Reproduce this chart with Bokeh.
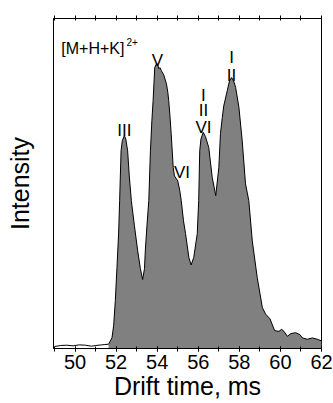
import numpy as np
from bokeh.plotting import figure
from bokeh.models import Range1d, LinearAxis, FixedTicker
from bokeh.core.properties import value
from bokeh.embed import file_html
from bokeh.resources import INLINE

FONT = "Liberation Sans"

# Drift time (ms) and normalised intensity
drift_time = [49.00, 49.30, 49.60, 49.90, 50.20, 50.50, 50.80, 51.00, 51.30, 51.45,
              51.63, 51.72, 51.80, 51.88, 51.96, 52.04, 52.12, 52.17, 52.24, 52.30,
              52.40, 52.47, 52.56, 52.64, 52.74, 52.89, 53.05, 53.18, 53.29, 53.38,
              53.42, 53.50, 53.59, 53.67, 53.74, 53.80, 53.88, 53.98, 54.04, 54.07,
              54.14, 54.20, 54.32, 54.45, 54.52, 54.56, 54.62, 54.68, 54.78, 54.84,
              55.00, 55.10, 55.17, 55.28, 55.38, 55.54, 55.65, 55.78, 55.95, 56.02,
              56.07, 56.13, 56.24, 56.35, 56.51, 56.68, 56.85, 57.00, 57.08, 57.17,
              57.24, 57.41, 57.52, 57.62, 57.72, 57.82, 57.98, 58.14, 58.30, 58.46,
              58.63, 58.87, 59.12, 59.28, 59.49, 59.72, 59.93, 60.06, 60.17, 60.34,
              60.50, 60.74, 60.95, 61.07, 61.31, 61.56, 61.80, 62.00]
intensity = [0.006, 0.009, 0.010, 0.008, 0.011, 0.010, 0.007, 0.009, 0.011, 0.012,
             0.013, 0.023, 0.033, 0.070, 0.145, 0.245, 0.347, 0.448, 0.599, 0.630,
             0.645, 0.635, 0.599, 0.523, 0.448, 0.372, 0.296, 0.242, 0.209, 0.242,
             0.296, 0.372, 0.448, 0.599, 0.690, 0.751, 0.852, 0.864, 0.857, 0.848,
             0.851, 0.842, 0.829, 0.802, 0.775, 0.751, 0.705, 0.651, 0.548, 0.523,
             0.508, 0.478, 0.448, 0.387, 0.348, 0.276, 0.253, 0.276, 0.348, 0.448,
             0.599, 0.635, 0.655, 0.642, 0.609, 0.518, 0.463, 0.548, 0.651, 0.700,
             0.735, 0.781, 0.811, 0.821, 0.811, 0.791, 0.730, 0.629, 0.499, 0.448,
             0.326, 0.215, 0.124, 0.104, 0.090, 0.054, 0.052, 0.058, 0.052, 0.037,
             0.045, 0.048, 0.042, 0.032, 0.028, 0.032, 0.028, 0.023]

# Conformer labels above the peaks
peak_text = ["III", "V", "VI", "I", "II", "VI", "I", "II"]
peak_x = [52.40, 54.01, 55.21, 56.25, 56.25, 56.25, 57.62, 57.62]
peak_y = [0.660, 0.872, 0.532, 0.766, 0.720, 0.669, 0.881, 0.826]

x_major = [50, 52, 54, 56, 58, 60, 62]
x_minor = list(range(49, 63))
x_title = "Drift time, ms"
y_title = "Intensity"
ion_label = "[M+H+K]"
ion_charge = "2+"
fill_start = 51.6

p = figure(width=333, height=403, output_backend="svg", toolbar_location=None,
           x_range=Range1d(48.95, 62.0), y_range=Range1d(0, 1.0),
           min_border_left=53, min_border_right=12, min_border_top=18,
           min_border_bottom=55)
p.background_fill_color = "white"
p.border_fill_color = "white"
p.outline_line_color = "black"
p.outline_line_width = 1
p.grid.visible = False

xarr = np.array(drift_time)
yarr = np.array(intensity)
mask = xarr >= fill_start
p.varea(x=xarr[mask], y1=np.zeros(mask.sum()), y2=yarr[mask], fill_color="#808080")
p.line(x=drift_time, y=intensity, line_color="black", line_width=1)

p.text(x=peak_x, y=peak_y, text=peak_text, text_font=value(FONT),
       text_font_size="17px", text_align="center", text_baseline="alphabetic",
       text_color="black")
p.text(x=[49.33], y=[0.91], text=[ion_label], text_font=value(FONT),
       text_font_size="16px", text_align="left", text_baseline="alphabetic",
       text_color="black")
p.text(x=[52.50], y=[0.93], text=[ion_charge], text_font=value(FONT),
       text_font_size="10px", text_align="left", text_baseline="alphabetic",
       text_color="black")

xa = p.xaxis[0]
xa.ticker = FixedTicker(ticks=x_major, minor_ticks=x_minor)
xa.axis_label = x_title
xa.axis_label_text_font = FONT
xa.axis_label_text_font_style = "normal"
xa.axis_label_text_font_size = "25px"
xa.axis_label_text_color = "black"
xa.axis_label_standoff = 0
xa.major_label_text_font = FONT
xa.major_label_text_font_size = "20px"
xa.major_label_text_color = "black"
xa.major_label_standoff = 3
xa.major_tick_in = 2
xa.major_tick_out = 3
xa.minor_tick_in = 2
xa.minor_tick_out = 3
xa.axis_line_color = "black"
xa.major_tick_line_color = "black"
xa.minor_tick_line_color = "black"

top = LinearAxis(ticker=FixedTicker(ticks=[], minor_ticks=x_minor),
                 minor_tick_in=2, minor_tick_out=3, major_tick_in=0, major_tick_out=0,
                 major_label_standoff=0, axis_line_color="black",
                 minor_tick_line_color="black")
p.add_layout(top, "above")

ya = p.yaxis[0]
ya.ticker = FixedTicker(ticks=[], minor_ticks=[])
ya.axis_label = y_title
ya.axis_label_text_font = FONT
ya.axis_label_text_font_style = "normal"
ya.axis_label_text_font_size = "25px"
ya.axis_label_text_color = "black"
ya.axis_label_standoff = 20
ya.major_label_standoff = 0
ya.major_tick_in = 0
ya.major_tick_out = 0
ya.minor_tick_in = 0
ya.minor_tick_out = 0
ya.axis_line_color = "black"

open("out.html", "w").write(file_html(p, INLINE))
